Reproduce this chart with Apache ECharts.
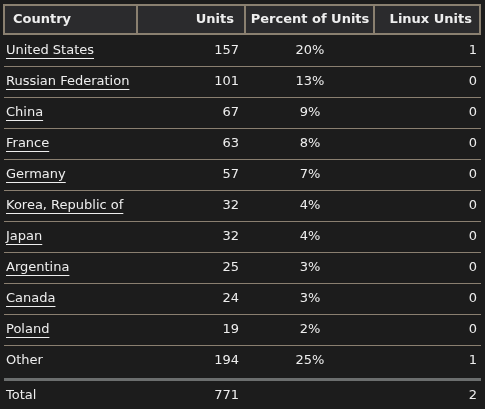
<!DOCTYPE html>
<html><head><meta charset="utf-8">
<script src="https://cdn.jsdelivr.net/npm/echarts@6/dist/echarts.min.js"></script>
<style>html,body{margin:0;background:#1c1c1c}#c{width:485px;height:409px}</style>
</head><body><div id="c"></div>
<script>
const headers = ["Country","Units","Percent of Units","Linux Units"];
const countries = ["United States","Russian Federation","China","France","Germany","Korea, Republic of","Japan","Argentina","Canada","Poland","Other"];
const units = [157,101,67,63,57,32,32,25,24,19,194];
const percents = ["20%","13%","9%","8%","7%","4%","4%","3%","3%","2%","25%"];
const linuxUnits = [1,0,0,0,0,0,0,0,0,0,1];
const totalUnits = 771, totalLinux = 2;

const font = '"DejaVu Sans", sans-serif';
const ctx = document.createElement('canvas').getContext('2d');
const g = [];
const txt = (x,y,t,align,bold,ul)=>{
  const f = (bold?'bold ':'')+'13px '+font;
  g.push({type:'text',x,y,style:{text:t,fill:'#eeeeee',font:f,textAlign:align,textVerticalAlign:'middle'}});
  if(ul){
    ctx.font = f;
    const w = ctx.measureText(t).width;
    g.push({type:'line',shape:{x1:x,y1:y+7.5,x2:x+w,y2:y+7.5},style:{stroke:'#eeeeee',lineWidth:1}});
  }
};
g.push({type:'rect',shape:{x:4,y:5,width:476,height:29},style:{fill:'#2b2b2d',stroke:'#8a8070',lineWidth:2}});
[137,245,374].forEach(x=>g.push({type:'line',shape:{x1:x,y1:5,x2:x,y2:34},style:{stroke:'#8a8070',lineWidth:2}}));
txt(13,20,headers[0],'left',true);
txt(234,20,headers[1],'right',true);
txt(310,20,headers[2],'center',true);
txt(472,20,headers[3],'right',true);
countries.forEach((c,i)=>{
  const y = 51+31*i;
  txt(6,y,c,'left',false,i<countries.length-1);
  txt(239,y,String(units[i]),'right');
  txt(310,y,percents[i],'center');
  txt(477,y,String(linuxUnits[i]),'right');
  if(i<countries.length-1) g.push({type:'line',shape:{x1:4,y1:66.5+31*i,x2:481,y2:66.5+31*i},style:{stroke:'#8a7f70',lineWidth:1}});
});
g.push({type:'rect',shape:{x:4,y:378,width:477,height:3},style:{fill:'#6b6e6e'}});
txt(6,396,'Total','left');
txt(239,396,String(totalUnits),'right');
txt(477,396,String(totalLinux),'right');

const chart = echarts.init(document.getElementById('c'));
chart.setOption({backgroundColor:'#1c1c1c',animation:false,graphic:g});
</script></body></html>
